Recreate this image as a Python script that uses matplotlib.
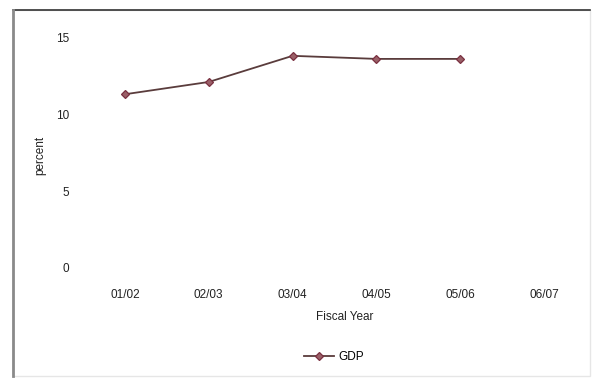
import matplotlib
matplotlib.use("Agg")
import matplotlib.pyplot as plt
from matplotlib.patches import Rectangle

years = ["01/02", "02/03", "03/04", "04/05", "05/06", "06/07"]
gdp = [11.3, 12.1, 13.8, 13.6, 13.6, None]
y_ticks = [0, 5, 10, 15]

plt.rcParams["font.family"] = ["Liberation Sans", "DejaVu Sans"]

W, H = 592, 379
fig = plt.figure(figsize=(W / 100, H / 100), dpi=100)

# plot area in pixel terms: categories centred in bins 84 px wide
left, right = 83, 586
bottom, top = 268, 22
ax = fig.add_axes([left / W, 1 - bottom / H, (right - left) / W, (bottom - top) / H])

xs = [i for i, v in enumerate(gdp) if v is not None]
ys = [v for v in gdp if v is not None]
line, = ax.plot(xs, ys, color="#5a3c3c", lw=1.3, marker="D", ms=4.5,
                markerfacecolor="#9a6068", markeredgecolor="#7a3040", mew=0.9,
                label="GDP")

ax.set_xlim(-0.5, len(years) - 0.5)
ax.set_ylim(0, 16)
ax.set_xticks(range(len(years)))
ax.set_xticklabels(years)
ax.set_yticks(y_ticks)
for s in ax.spines.values():
    s.set_visible(False)
ax.tick_params(axis="both", length=0, labelsize=8.5, colors="#222222")
ax.tick_params(axis="x", pad=15)
ax.tick_params(axis="y", pad=10)

fig.text(40 / W, 1 - 155 / H, "percent", rotation=90, ha="center", va="center",
         fontsize=8.5, color="#222222")
fig.text(345 / W, 1 - 317 / H, "Fiscal Year", ha="center", va="center",
         fontsize=8.5, color="#222222")

leg = fig.legend(handles=[line], loc="center", bbox_to_anchor=(334 / W, 1 - 357 / H),
                 frameon=False, fontsize=8.5, handlelength=2.5, handletextpad=0.4)

# outer chart frame: faint right/bottom, darker top and left
fig.patches.append(Rectangle((13 / W, 1 - 376 / H), 577 / W, 366 / H,
                             transform=fig.transFigure, fill=False,
                             edgecolor="#e6e6e6", lw=1.0))
fig.lines.append(plt.Line2D([13 / W, 590 / W], [1 - 10 / H, 1 - 10 / H],
                            transform=fig.transFigure, color="#333333", lw=1.2))
fig.lines.append(plt.Line2D([13 / W, 13 / W], [1 - 10 / H, 1 - 376 / H],
                            transform=fig.transFigure, color="#8a8a8a", lw=2.0))

fig.savefig("out.png", dpi=100)
